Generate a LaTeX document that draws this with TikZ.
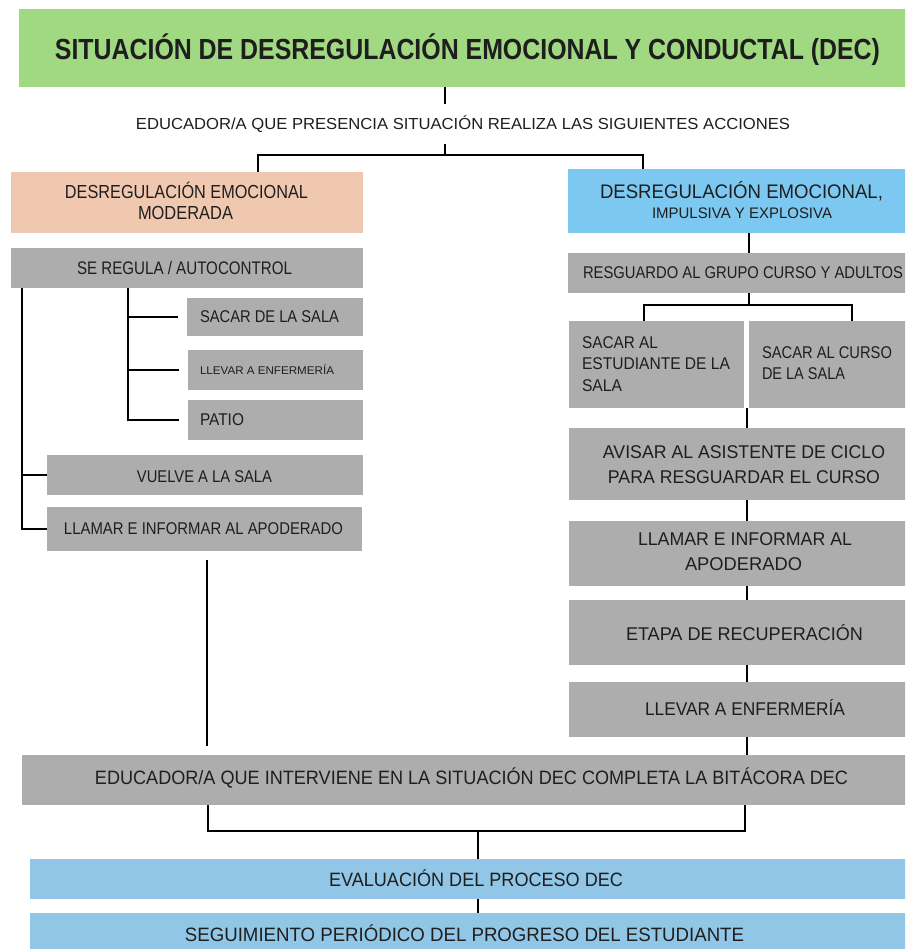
\documentclass[tikz,border=0pt]{standalone}
\usepackage{fontspec}
\setmainfont{Liberation Sans}
\usepackage{graphicx}
\definecolor{cgreen}{RGB}{161,216,130}
\definecolor{cpink}{RGB}{240,200,176}
\definecolor{cblue}{RGB}{125,200,240}
\definecolor{cgray}{RGB}{173,173,173}
\definecolor{cblue2}{RGB}{146,198,230}
\definecolor{ctxt}{RGB}{30,30,30}
\newcommand{\fitbox}[3]{\resizebox{#1}{#2}{\raisebox{0pt}[\fontcharht\font`H][0pt]{#3}}}
\newcommand{\bx}[6]{\node[boxst,fill=#6,minimum width={(#4-#2)*1pt},minimum height={(#5-#3)*1pt}] (#1) at ({(#2+#4)/2},{(#3+#5)/2}) {};}
\newcommand{\tx}[7][]{\node[lbl,#1] (#2) at (#3,#4) {\fitbox{#5pt}{#6pt}{#7}};}
\begin{document}
\begin{tikzpicture}[x=1pt,y=-1pt,line width=1.5pt,
  boxst/.style={draw=none,inner sep=0pt,outer sep=0pt,rectangle},
  lbl/.style={inner sep=0pt,outer sep=0pt,text=ctxt}]
\useasboundingbox (0,0) rectangle (905,949);
\clip (0,0) rectangle (905,949);
% boxes
\bx{title}{19}{9}{916}{87}{cgreen}
\bx{pink}{11}{172}{363}{233}{cpink}
\bx{blue}{568}{169}{930}{233}{cblue}
\bx{sereg}{11}{248}{363}{288}{cgray}
\bx{sacar}{187}{298}{363}{336}{cgray}
\bx{llevarL}{188}{350}{363}{390}{cgray}
\bx{patio}{188}{400}{363}{440}{cgray}
\bx{vuelve}{47}{455}{363}{495}{cgray}
\bx{llamarL}{47}{507}{362}{551}{cgray}
\bx{resg}{568}{253}{930}{293}{cgray}
\bx{sacarE}{569}{321}{744}{408}{cgray}
\bx{sacarC}{749}{321}{930}{408}{cgray}
\bx{avisar}{569}{428}{917}{500}{cgray}
\bx{llamarR}{569}{521}{917}{586}{cgray}
\bx{etapa}{569}{600}{917}{665}{cgray}
\bx{llevarR}{569}{682}{917}{737}{cgray}
\bx{edu}{22}{755}{920}{805}{cgray}
\bx{eval}{30}{859}{920}{899}{cblue2}
\bx{seg}{30}{913}{920}{960}{cblue2}
% texts
\tx[font=\bfseries]{titlet}{467.5}{50}{825}{20}{SITUACIÓN DE DESREGULACIÓN EMOCIONAL Y CONDUCTAL (DEC)}
\tx[minimum height=40pt]{intro}{463}{124}{654}{11}{EDUCADOR/A QUE PRESENCIA SITUACIÓN REALIZA LAS SIGUIENTES ACCIONES}
\tx{pinkt1}{186.5}{192}{243}{13}{DESREGULACIÓN EMOCIONAL}
\tx{pinkt2}{185.5}{213}{95}{13}{MODERADA}
\tx{bluet1}{741.5}{192}{283}{13.5}{DESREGULACIÓN EMOCIONAL,}
\tx{bluet2}{742}{213}{180}{10.5}{IMPULSIVA Y EXPLOSIVA}
\tx{seregt}{184.5}{268}{215}{12.5}{SE REGULA / AUTOCONTROL}
\tx[anchor=west]{sacart}{200}{317}{139}{11.7}{SACAR DE LA SALA}
\tx[anchor=west]{llevarLt}{200}{371}{134}{7.7}{LLEVAR A ENFERMERÍA}
\tx[anchor=west]{patiot}{200}{420}{44}{11.7}{PATIO}
\tx{vuelvet}{204.5}{477}{135}{11.7}{VUELVE A LA SALA}
\tx{llamarLt}{203.5}{529}{279}{11.7}{LLAMAR E INFORMAR AL APODERADO}
\tx[anchor=west]{resgt}{583}{273}{320}{11.7}{RESGUARDO AL GRUPO CURSO Y ADULTOS}
\tx[anchor=west]{sacarEt1}{582}{343}{76}{11.7}{SACAR AL}
\tx[anchor=west]{sacarEt2}{582}{364}{148}{11.7}{ESTUDIANTE DE LA}
\tx[anchor=west]{sacarEt3}{582}{386}{40}{11.7}{SALA}
\tx[anchor=west]{sacarCt1}{762}{353}{130}{11.7}{SACAR AL CURSO}
\tx[anchor=west]{sacarCt2}{762}{374}{83}{11.7}{DE LA SALA}
\tx{avisart1}{744}{452}{282}{12.7}{AVISAR AL ASISTENTE DE CICLO}
\tx{avisart2}{744}{477}{272}{12.7}{PARA RESGUARDAR EL CURSO}
\tx{llamarRt1}{745}{539}{214}{12.7}{LLAMAR E INFORMAR AL}
\tx{llamarRt2}{743.5}{564}{117}{12.7}{APODERADO}
\tx{etapat}{744.5}{634}{237}{12.7}{ETAPA DE RECUPERACIÓN}
\tx{llevarRt}{745}{709}{200}{12.7}{LLEVAR A ENFERMERÍA}
\tx{edut}{471.5}{778}{753}{13.3}{EDUCADOR/A QUE INTERVIENE EN LA SITUACIÓN DEC COMPLETA LA BITÁCORA DEC}
\tx{evalt}{476}{880}{294}{13.3}{EVALUACIÓN DEL PROCESO DEC}
\tx{segt}{464.5}{935}{559}{13.3}{SEGUIMIENTO PERIÓDICO DEL PROGRESO DEL ESTUDIANTE}
% helper coordinates
\coordinate (c445) at (445,0);
\coordinate (c258) at (258,0);
\coordinate (c643) at (643,0);
\coordinate (j1) at (445,155);
\coordinate (c22) at (22,0);
\coordinate (c128) at (128,0);
\coordinate (c207) at (207,0);
\coordinate (c749) at (749,0);
\coordinate (c747) at (747,0);
\coordinate (c644) at (644,0);
\coordinate (c852) at (852,0);
\coordinate (j2) at (749,305);
\coordinate (c208) at (208,0);
\coordinate (c745) at (745,0);
\coordinate (c478) at (478,0);
\coordinate (j3) at (478,831);
% connectors
\draw (title.south -| c445) -- (intro.north -| c445);
\draw (intro.south -| c445) -- (j1);
\draw (pink.north -| c258) |- (j1) -| (blue.north -| c643);
\draw (sereg.south -| c22) |- (llamarL.west);
\draw (c22 |- vuelve.west) -- (vuelve.west);
\draw (sereg.south -| c128) |- ([xshift=-9pt]patio.west);
\draw (c128 |- sacar.west) -- ([xshift=-9pt]sacar.west);
\draw (c128 |- llevarL.west) -- ([xshift=-9pt]llevarL.west);
\draw ([yshift=-9pt]llamarL.south -| c207) -- ([yshift=9pt]edu.north -| c207);
\draw (blue.south -| c749) -- (resg.north -| c749);
\draw (resg.south -| c749) -- (j2);
\draw (sacarE.north -| c644) |- (j2) -| (sacarC.north -| c852);
\draw (sacarE.south -| c747) -- (avisar.north -| c747);
\draw (avisar.south -| c747) -- (llamarR.north -| c747);
\draw (llamarR.south -| c747) -- (etapa.north -| c747);
\draw (etapa.south -| c747) -- (llevarR.north -| c747);
\draw (llevarR.south -| c747) -- (edu.north -| c747);
\draw (edu.south -| c208) |- (j3) -| (edu.south -| c745);
\draw (j3) -- (eval.north -| c478);
\draw (eval.south -| c478) -- (seg.north -| c478);
\end{tikzpicture}
\end{document}
